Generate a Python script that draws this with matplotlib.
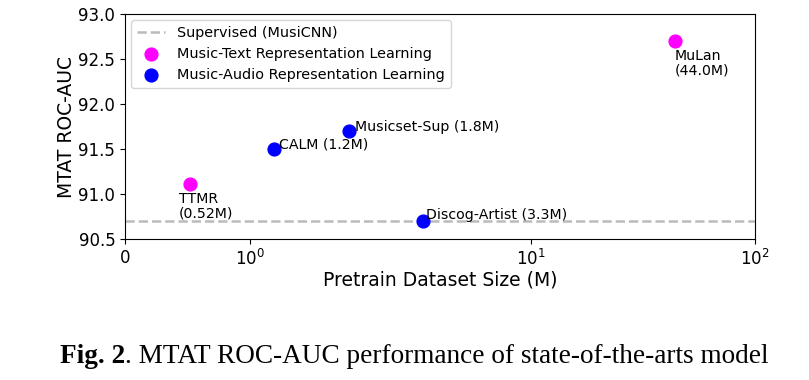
import numpy as np
import matplotlib
matplotlib.use("Agg")
import matplotlib.pyplot as plt

# values
supervised_auc = 90.7
text_names = ["TTMR\n(0.52M)", "MuLan\n(44.0M)"]
text_sizes = [0.52, 44.0]
text_auc = [91.11, 92.70]
audio_names = ["CALM (1.2M)", "Musicset-Sup (1.8M)", "Discog-Artist (3.3M)"]
audio_sizes = [1.2, 1.8, 3.3]
audio_auc = [91.5, 91.7, 90.7]

# label offsets in points (dx, dy, va)
text_offsets = [(-8, -6, "top"), (0, -6, "top")]
audio_offsets = [(3, -2, "bottom"), (4, -2, "bottom"), (2, -1, "bottom")]

fig = plt.figure(figsize=(8.09, 3.80), dpi=100)
ax = fig.add_axes([0.1545, 0.371, 0.7787, 0.592])

ax.axhline(supervised_auc, color="#bbbbbb", linestyle="--", linewidth=1.8,
           label="Supervised (MusiCNN)")
ax.scatter(text_sizes, text_auc, s=85, color="magenta", zorder=3,
           label="Music-Text Representation Learning")
ax.scatter(audio_sizes, audio_auc, s=85, color="blue", zorder=3,
           label="Music-Audio Representation Learning")

for name, x, y, (dx, dy, va) in zip(text_names, text_sizes, text_auc, text_offsets):
    ax.annotate(name, (x, y), xytext=(dx, dy), textcoords="offset points",
                ha="left", va=va, fontsize=10.2, linespacing=1.0)
for name, x, y, (dx, dy, va) in zip(audio_names, audio_sizes, audio_auc, audio_offsets):
    ax.annotate(name, (x, y), xytext=(dx, dy), textcoords="offset points",
                ha="left", va=va, fontsize=10.2)

ax.set_xscale("symlog", linthresh=2)
ax.set_xlim(0, 100)
ax.set_ylim(90.5, 93.0)
ax.set_xticks([0, 1, 10, 100])
ax.xaxis.set_minor_locator(matplotlib.ticker.NullLocator())
ax.set_yticks(np.arange(90.5, 93.01, 0.5))
ax.tick_params(labelsize=12)
ax.set_xlabel("Pretrain Dataset Size (M)", fontsize=13.5, labelpad=1)
ax.set_ylabel("MTAT ROC-AUC", fontsize=13.5, labelpad=2)
ax.legend(loc="upper left", fontsize=10.4, handletextpad=0.8, borderaxespad=0.4)

# caption below the chart
serif = "Liberation Serif"
t1 = fig.text(60 / 809, 0.03, "Fig. 2", family=serif, fontsize=19.6,
              weight="bold", ha="left", va="bottom")
t2 = fig.text(0, 0.03, ". MTAT ROC-AUC performance of state-of-the-arts model",
              family=serif, fontsize=19.6, ha="left", va="bottom")
fig.canvas.draw()
bb = t1.get_window_extent()
t2.set_position((bb.x1 / fig.bbox.width, 0.03))

fig.savefig("out.png", dpi=100)
